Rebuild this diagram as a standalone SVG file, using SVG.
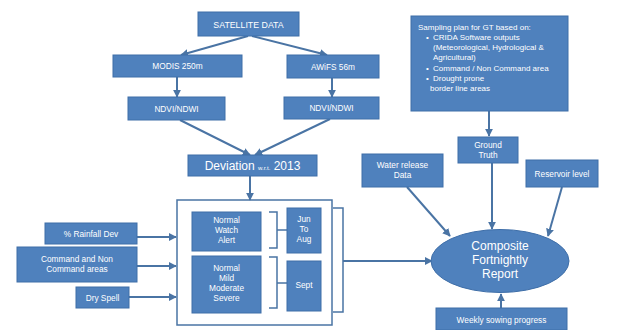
<svg xmlns="http://www.w3.org/2000/svg" width="626" height="330" viewBox="0 0 626 330">
<defs>
<style>
.n{fill:#4F81BD;stroke:#3E6EA8;stroke-width:1}
.t{fill:#fff;font-family:"Liberation Sans",Arial,sans-serif;font-size:8.3px;text-anchor:middle}
.c{stroke:#4A74A4;stroke-width:2;fill:none}
.b{stroke:#4A74A4;stroke-width:1.5;fill:none}
</style>
<marker id="a" viewBox="0 0 10 10" refX="9" refY="5" markerWidth="4" markerHeight="4" orient="auto"><path d="M0,0L10,5L0,10z" fill="#4A74A4"/></marker>
</defs>
<rect width="626" height="330" fill="#fff"/>
<g id="panel"><rect x="177" y="200" width="155" height="125" fill="#fff" stroke="#4A74A4" stroke-width="1.5"/></g>
<g id="connectors">
<path class="c" d="M248,36L181,55" marker-end="url(#a)"/>
<path class="c" d="M252,36L327,55" marker-end="url(#a)"/>
<path class="c" d="M177,77V97" marker-end="url(#a)"/>
<path class="c" d="M332,78V97" marker-end="url(#a)"/>
<path class="c" d="M180,120L250,155" marker-end="url(#a)"/>
<path class="c" d="M330,119L255,155" marker-end="url(#a)"/>
<path class="c" d="M250,176V200" marker-end="url(#a)"/>
<path class="c" d="M137,237H176" marker-end="url(#a)"/>
<path class="c" d="M137,266H176" marker-end="url(#a)"/>
<path class="c" d="M129,297H176" marker-end="url(#a)"/>
<path class="b" d="M269,212H277V248H269M277,230H287"/>
<path class="b" d="M269,257H277V308H269M277,283H287"/>
<path class="b" d="M333,208H343V312H333"/>
<path class="c" d="M343,261H432" marker-end="url(#a)"/>
<path class="c" d="M489,111V136" marker-end="url(#a)"/>
<path class="c" d="M407,187L450,236" marker-end="url(#a)"/>
<path class="c" d="M492,163V229" marker-end="url(#a)"/>
<path class="c" d="M562,187L548,236" marker-end="url(#a)"/>
<path class="c" d="M501,308V294" marker-end="url(#a)"/>
</g>
<g id="satellite"><rect class="n" x="198" y="12" width="101" height="24"/><text class="t" x="248.5" y="27.5" style="font-size:8.8px">SATELLITE DATA</text></g>
<g id="modis"><rect class="n" x="113" y="55" width="129" height="22"/><text class="t" x="177.5" y="69">MODIS 250m</text></g>
<g id="awifs"><rect class="n" x="287" y="55" width="92" height="23"/><text class="t" x="333" y="69.5">AWiFS 56m</text></g>
<g id="ndvi1"><rect class="n" x="128" y="97" width="97" height="23"/><text class="t" x="176.5" y="111.5">NDVI/NDWI</text></g>
<g id="ndvi2"><rect class="n" x="284" y="97" width="95" height="22"/><text class="t" x="331.5" y="111">NDVI/NDWI</text></g>
<g id="deviation"><rect class="n" x="188" y="155" width="129" height="21"/><text class="t" x="252.5" y="170" style="font-size:12px">Deviation <tspan style="font-size:6px">w.r.t.</tspan> 2013</text></g>
<g id="nwa"><rect class="n" x="192" y="212" width="69" height="39"/><text class="t" x="226.5" y="222.5">Normal</text><text class="t" x="226.5" y="232.5">Watch</text><text class="t" x="226.5" y="242.5">Alert</text></g>
<g id="nmms"><rect class="n" x="192" y="256" width="69" height="57"/><text class="t" x="226.5" y="270.5">Normal</text><text class="t" x="226.5" y="280.5">Mild</text><text class="t" x="226.5" y="290.5">Moderate</text><text class="t" x="226.5" y="300.5">Severe</text></g>
<g id="jun"><rect class="n" x="287" y="208" width="34" height="45"/><text class="t" x="304" y="222">Jun</text><text class="t" x="304" y="232">To</text><text class="t" x="304" y="242">Aug</text></g>
<g id="sept"><rect class="n" x="287" y="261" width="34" height="50"/><text class="t" x="304" y="288">Sept</text></g>
<g id="rainfall"><rect class="n" x="45" y="223" width="92" height="21"/><text class="t" x="91" y="236.5">% Rainfall Dev</text></g>
<g id="command"><rect class="n" x="17" y="247" width="120" height="35"/><text class="t" x="77" y="262">Command and Non</text><text class="t" x="77" y="272">Command areas</text></g>
<g id="dryspell"><rect class="n" x="76" y="287" width="53" height="21"/><text class="t" x="102.5" y="300.5">Dry Spell</text></g>
<g id="sampling"><rect class="n" x="411" y="16" width="157" height="95"/>
<g style="fill:#fff;font-family:'Liberation Sans',Arial,sans-serif;font-size:8px">
<text x="418" y="30">Sampling plan for GT based on:</text>
<text x="426" y="40">•</text><text x="433" y="40">CRIDA  Software outputs</text>
<text x="433" y="50">(Meteorological, Hydrological &amp;</text>
<text x="433" y="60">Agricultural)</text>
<text x="426" y="71">•</text><text x="433" y="71">Command / Non Command area</text>
<text x="426" y="81">•</text><text x="433" y="81">Drought prone</text>
<text x="430" y="91">border line areas</text>
</g></g>
<g id="ground"><rect class="n" x="458" y="137" width="60" height="26"/><text class="t" x="488" y="148">Ground</text><text class="t" x="488" y="158">Truth</text></g>
<g id="water"><rect class="n" x="362" y="154" width="81" height="33"/><text class="t" x="402.5" y="168">Water release</text><text class="t" x="402.5" y="178">Data</text></g>
<g id="reservoir"><rect class="n" x="526" y="160" width="72" height="27"/><text class="t" x="562" y="176.5">Reservoir level</text></g>
<g id="composite"><ellipse class="n" cx="500" cy="261" rx="69" ry="31.5"/><text class="t" x="500" y="250" style="font-size:12px">Composite</text><text class="t" x="500" y="264" style="font-size:12px">Fortnightly</text><text class="t" x="500" y="278" style="font-size:12px">Report</text></g>
<g id="weekly"><rect class="n" x="436" y="308" width="131" height="22"/><text class="t" x="501.5" y="322.5">Weekly sowing progress</text></g>
</svg>
